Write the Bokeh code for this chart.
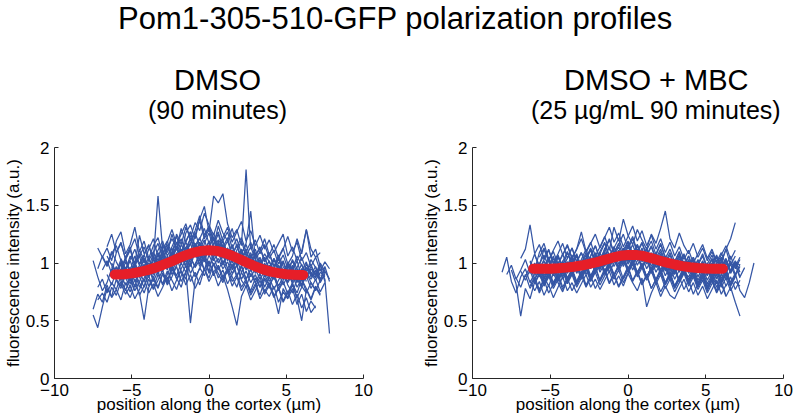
import numpy as np
from bokeh.plotting import figure
from bokeh.models import FixedTicker, Range1d, ColumnDataSource, GlobalInlineStyleSheet
from bokeh.core.properties import value
from bokeh.layouts import column, row
from bokeh.embed import file_html
from bokeh.resources import INLINE

_ = float("nan")

MAIN_TITLE = "Pom1-305-510-GFP polarization profiles"
PANEL_TITLES = ["DMSO", "DMSO + MBC"]
PANEL_SUBTITLES = ["(90 minutes)", "(25 \u00b5g/mL 90 minutes)"]
X_LABEL = "position along the cortex (\u00b5m)"
Y_LABEL = "fluorescence intensity (a.u.)"

XTICKS = [-10, -5, 0, 5, 10]
XTICK_LABELS = ["\u221210", "\u22125", "0", "5", "10"]
YTICKS = [0, 0.5, 1, 1.5, 2]
YTICK_LABELS = ["0", "0.5", "1", "1.5", "2"]

# position along the cortex (um) shared by all single-cell profiles
X_GRID = [-8.1, -7.8, -7.5, -7.2, -6.9, -6.6, -6.3, -6.0, -5.7, -5.4, -5.1, -4.8, -4.5, -4.2,
          -3.9, -3.6, -3.3, -3.0, -2.7, -2.4, -2.1, -1.8, -1.5, -1.2, -0.9, -0.6, -0.3, 0.0,
          0.3, 0.6, 0.9, 1.2, 1.5, 1.8, 2.1, 2.4, 2.7, 3.0, 3.3, 3.6, 3.9, 4.2, 4.5, 4.8,
          5.1, 5.4, 5.7, 6.0, 6.3, 6.6, 6.9, 7.2, 7.5, 7.8, 8.1]

DMSO_PROFILES = [
    [_, _, 0.55, 0.44, 0.62, 0.78, 0.71, 0.86, 0.80, 0.92, 0.84, 0.97, 0.88, 0.79, 0.93,
     0.99, 0.90, 1.04, 0.96, 1.08, 1.01, 1.12, 1.05, 0.97, 1.10, 1.18, 1.06, 1.13, 1.02, 1.09,
     0.98, 1.07, 0.94, 1.03, 0.92, 0.99, 0.88, 0.95, 0.86, 0.93, 0.84, 0.91, 0.80, 0.88, 0.83,
     0.90, 0.79, 0.86, 0.75, _, _, _, _, _, _],
    [_, _, 1.02, 0.88, 0.76, 0.83, 0.95, 0.87, 1.01, 0.93, 0.86, 0.98, 1.06, 0.92, 1.00,
     0.95, 1.08, 1.01, 1.14, 1.05, 1.12, 1.21, 1.09, 1.17, 1.26, 1.15, 1.23, 1.31, 1.20, 1.12,
     1.19, 1.08, 1.14, 1.03, 1.10, 0.97, 1.04, 0.93, 0.99, 0.88, 0.95, 0.86, 0.92, 0.81, 0.89,
     0.84, 0.93, 0.87, 0.96, 0.91, 0.85, 0.92, 0.88, _, _],
    [_, _, _, 1.13, 1.05, 0.97, 1.08, 1.15, 1.02, 0.94, 1.06, 0.99, 1.11, 1.03, 0.95,
     1.09, 1.17, 1.04, 1.12, 1.21, 1.13, 1.06, 1.19, 1.27, 1.15, 1.22, 1.10, 1.18, 1.08, 1.16,
     1.05, 1.13, 1.01, 1.09, 0.98, 1.06, 0.95, 1.02, 0.91, 0.99, 0.93, 1.04, 0.97, 0.89, 1.01,
     0.94, 1.06, 0.98, 0.91, 1.03, 0.96, 0.89, _, _, _],
    [_, _, _, 0.68, 0.74, 0.66, 0.79, 0.72, 0.84, 0.77, 0.70, 0.81, 0.74, 0.51, 0.79,
     0.86, 0.78, 0.91, 0.83, 0.95, 0.87, 0.79, 0.93, 0.48, 0.85, 0.96, 0.89, 1.01, 0.92, 0.98,
     0.88, 0.95, 0.84, 0.90, 0.79, 0.86, 0.74, 0.82, 0.69, 0.77, 0.71, 0.80, 0.66, 0.75, 0.69,
     0.78, 0.64, 0.73, 0.58, 0.67, 0.61, _, _, _, _],
    [_, _, _, _, 0.94, 1.02, 0.91, 1.09, 1.18, 1.03, 1.11, 0.99, 1.24, 1.08, 1.15,
     1.03, 1.58, 1.12, 1.19, 1.07, 1.25, 1.16, 1.31, 1.22, 1.35, 1.28, 1.43, 1.33, 1.24, 1.37,
     1.26, 1.19, 1.30, 1.14, 1.22, 1.10, 1.18, 1.06, 1.13, 1.01, 1.08, 0.97, 1.05, 0.92, 1.00,
     0.93, 1.02, 0.88, 0.96, 0.90, 0.97, 0.86, 0.94, _, _],
    [_, _, _, _, _, _, 0.88, 0.97, 0.85, 0.93, 1.02, 0.90, 0.98, 1.07, 0.95,
     1.04, 0.96, 1.12, 1.01, 1.09, 1.18, 1.06, 1.26, 1.33, 1.21, 1.38, 1.49, 1.27, 1.58, 1.52,
     1.60, 1.34, 1.22, 1.29, 1.15, 1.81, 1.12, 1.20, 1.08, 1.16, 1.04, 1.11, 0.99, 1.07, 0.95,
     1.02, 0.91, 0.99, 0.87, 0.95, 0.90, 0.98, 0.84, _, _],
    [_, _, _, _, _, _, _, 0.92, 0.99, 0.87, 0.95, 0.84, 0.91, 0.99, 0.88,
     0.96, 1.04, 0.93, 1.01, 0.90, 0.98, 1.07, 0.96, 1.03, 1.11, 0.99, 1.08, 0.97, 1.05, 0.94,
     1.02, 0.91, 0.99, 0.88, 0.97, 0.86, 0.94, 1.03, 0.91, 0.98, 0.87, 0.95, 1.04, 0.92, 0.99,
     0.89, 0.96, 1.05, 0.93, 0.99, 0.88, 0.95, 0.86, 0.39, _],
    [_, _, _, _, _, 1.14, 1.25, 1.09, 1.17, 1.04, 1.12, 1.21, 1.06, 1.14, 1.02,
     1.10, 0.98, 1.07, 1.16, 1.04, 1.13, 1.01, 1.09, 1.17, 1.05, 1.12, 1.20, 1.08, 1.16, 1.25,
     1.11, 1.19, 1.07, 1.15, 1.03, 1.10, 0.99, 1.06, 1.14, 1.02, 1.09, 0.97, 1.05, 1.13, 0.99,
     1.06, 1.21, 1.08, 1.29, 1.12, 1.05, 1.09, _, _, _],
    [_, _, _, _, _, _, _, _, 0.82, 0.73, 0.80, 0.69, 0.77, 0.86, 0.74,
     0.82, 0.71, 0.79, 0.88, 0.76, 0.85, 0.93, 0.81, 0.90, 0.78, 0.87, 0.95, 0.84, 0.92, 0.80,
     0.89, 0.77, 0.62, 0.46, 0.71, 0.80, 0.68, 0.76, 0.85, 0.73, 0.81, 0.70, 0.78, 0.66, 0.74,
     0.83, 0.69, 0.50, 0.77, 0.68, 0.79, 0.72, _, _, _],
    [_, _, _, _, _, _, 0.97, 0.86, 0.94, 1.03, 0.91, 0.99, 0.88, 0.96, 1.05,
     0.93, 1.02, 1.10, 0.98, 1.07, 1.15, 1.04, 1.13, 1.21, 1.09, 1.17, 1.06, 1.14, 1.23, 1.11,
     1.19, 1.07, 1.16, 1.04, 1.12, 1.01, 1.09, 0.97, 1.05, 0.94, 1.02, 0.90, 0.98, 0.87, 0.95,
     0.84, 0.92, 0.81, 0.89, 0.78, 0.86, 0.75, 0.83, _, _],
    [_, _, _, _, _, _, _, _, 1.04, 0.95, 1.03, 1.12, 0.99, 1.07, 1.16,
     1.02, 1.11, 1.19, 1.06, 1.14, 1.23, 1.10, 1.18, 1.27, 1.13, 1.21, 1.30, 1.17, 1.26, 1.14,
     1.22, 1.31, 1.18, 1.27, 1.36, 1.19, 1.28, 1.15, 1.24, 1.12, 1.20, 1.09, 1.17, 1.25, 1.06,
     1.14, 1.02, 1.10, 1.29, 1.05, 1.12, 0.97, _, _, _],
    [_, _, _, 0.79, 0.86, 0.74, 0.83, 0.77, 0.89, 0.81, 0.87, 0.76, 0.84, 0.93, 0.80,
     0.88, 0.79, 0.91, 0.84, 0.97, 0.89, 1.00, 0.92, 1.05, 0.96, 1.03, 0.94, 1.07, 0.98, 1.04,
     0.95, 1.01, 0.91, 0.98, 0.86, 0.93, 0.83, 0.90, 0.79, 0.87, 0.81, 0.88, 0.78, 0.85, 0.93,
     0.82, 0.89, 0.80, 0.74, 0.83, 0.76, 0.85, 0.97, 0.84, _],
    [_, _, _, _, _, 1.06, 0.98, 0.91, 1.00, 0.89, 0.96, 0.87, 0.95, 1.03, 0.90,
     0.99, 1.08, 0.94, 1.02, 0.93, 1.01, 1.09, 0.98, 1.06, 1.14, 1.02, 1.10, 1.19, 1.05, 1.13,
     1.00, 1.08, 0.96, 1.04, 1.12, 0.99, 1.07, 0.95, 1.03, 0.91, 0.98, 0.87, 0.94, 1.02, 0.90,
     0.97, 0.85, 0.93, 1.01, 0.88, 0.94, 0.83, 0.91, _, _],
    [_, _, _, _, _, _, _, 0.85, 0.78, 0.90, 0.82, 0.91, 0.79, 0.87, 0.96,
     0.84, 0.93, 0.81, 0.90, 0.99, 0.86, 0.95, 1.03, 0.91, 0.99, 1.07, 0.94, 1.02, 0.89, 0.97,
     0.85, 0.93, 0.80, 0.88, 0.76, 0.84, 0.72, 0.80, 0.88, 0.75, 0.83, 0.71, 0.79, 0.67, 0.76,
     0.64, 0.73, 0.61, 0.70, 0.57, 0.63, _, _, _, _],
    [_, _, _, 0.95, 1.06, 0.98, 1.10, 1.01, 0.93, 1.05, 1.14, 0.97, 1.08, 1.00, 1.12,
     1.21, 1.05, 1.16, 1.09, 1.25, 1.12, 1.30, 1.18, 1.09, 1.24, 1.37, 1.21, 1.29, 1.15, 1.32,
     1.19, 1.27, 1.13, 1.21, 1.08, 1.16, 1.04, 1.12, 0.99, 1.08, 1.01, 0.94, 1.07, 0.97, 0.90,
     1.03, 0.95, 0.86, 0.99, 0.92, 0.87, 0.98, 0.91, _, _],
    [_, _, _, _, _, 0.90, 0.81, 0.93, 0.85, 0.76, 0.88, 0.80, 0.92, 0.84, 0.95,
     0.87, 0.99, 0.90, 0.82, 0.96, 1.05, 0.93, 0.86, 1.01, 1.09, 0.97, 1.06, 0.92, 1.12, 1.00,
     1.08, 0.95, 1.03, 0.89, 0.98, 0.86, 0.95, 0.83, 0.91, 0.79, 0.88, 0.77, 0.85, 0.93, 0.81,
     0.74, 0.86, 0.79, 0.92, 0.83, 0.77, _, _, _, _],
    [_, _, _, _, _, _, _, _, 0.96, 1.04, 0.92, 1.01, 0.89, 0.97, 0.91,
     1.03, 0.95, 1.07, 1.00, 1.13, 1.02, 1.16, 1.08, 1.22, 1.11, 1.03, 1.17, 1.26, 1.12, 1.20,
     1.14, 1.02, 1.11, 0.97, 1.06, 0.94, 1.03, 0.91, 0.98, 1.05, 0.93, 0.86, 0.98, 0.90, 0.84,
     0.96, 0.88, 0.81, 0.92, 0.86, 0.93, 0.85, 0.90, _, _],
    [_, _, _, _, _, _, 1.00, 0.92, 1.03, 0.95, 0.87, 0.99, 0.93, 1.04, 0.96,
     0.90, 1.01, 0.94, 1.06, 0.98, 1.09, 1.01, 1.14, 1.05, 0.97, 1.10, 1.02, 1.15, 1.07, 1.18,
     1.04, 1.13, 1.00, 1.11, 1.19, 1.06, 1.14, 1.03, 1.10, 1.21, 1.07, 1.16, 1.04, 1.12, 1.23,
     1.10, 1.18, 1.02, 1.09, 0.97, 1.05, 0.93, 1.01, 0.95, _],
    [_, _, 0.60, 0.73, 0.66, 0.81, 0.70, 0.77, 0.68, 0.83, 0.75, 0.86, 0.72, 0.80, 0.89,
     0.77, 0.85, 0.94, 0.81, 0.88, 0.97, 0.84, 0.92, 1.00, 0.88, 0.95, 1.04, 0.91, 0.99, 0.87,
     0.94, 0.82, 0.90, 0.98, 0.85, 0.79, 0.91, 0.83, 0.72, 0.86, 0.78, 0.90, 0.76, 0.84, 0.73,
     0.81, 0.70, 0.79, _, _, _, _, _, _, _],
    [_, _, _, _, _, _, _, 0.96, 0.89, 1.01, 0.94, 1.06, 0.98, 0.91, 1.03,
     0.96, 1.09, 1.01, 0.94, 1.06, 1.14, 0.99, 1.11, 1.03, 1.17, 1.09, 1.01, 1.14, 1.22, 1.07,
     1.16, 1.03, 1.11, 0.98, 1.08, 1.17, 1.45, 1.04, 0.93, 1.00, 0.92, 1.03, 0.95, 0.87, 0.98,
     0.91, 0.83, 0.95, 0.88, 0.97, 0.90, 1.00, 0.93, 0.86, _],
    [_, _, _, _, 1.05, 1.13, 1.02, 1.19, 1.27, 1.08, 1.16, 1.31, 1.10, 1.19, 1.04,
     1.15, 1.22, 1.07, 1.18, 1.29, 1.16, 1.25, 1.34, 1.19, 1.28, 1.41, 1.24, 1.32, 1.19, 1.27,
     1.13, 1.22, 1.07, 1.16, 1.03, 1.12, 0.99, 1.09, 0.96, 1.05, 0.95, 1.04, 0.92, 1.01, 0.89,
     0.98, 0.87, 0.95, 0.84, _, _, _, _, _, _],
    [_, _, _, _, _, _, _, _, _, 0.87, 0.79, 0.91, 0.83, 0.74, 0.86,
     0.78, 0.90, 0.82, 0.93, 0.85, 0.77, 0.89, 0.98, 0.84, 0.92, 0.81, 0.95, 0.87, 1.00, 0.91,
     0.83, 0.96, 0.88, 0.79, 0.92, 0.84, 0.76, 0.87, 0.79, 0.90, 0.81, 0.73, 0.56, 0.78, 0.70,
     0.82, 0.74, 0.86, 0.78, 0.69, 0.80, 0.73, _, _, _],
]

MBC_PROFILES = [
    [0.92, 1.05, 0.84, 0.74, 0.88, 0.95, 0.83, 0.91, 1.00, 0.87, 0.96, 0.89, 0.98, 0.86, 0.94,
     1.02, 0.91, 0.99, 1.07, 0.95, 1.03, 0.92, 1.00, 1.08, 0.97, 1.05, 1.13, 1.01, 1.09, 0.98,
     1.06, 0.95, 1.03, 0.92, 1.00, 0.89, 0.97, 0.86, 0.94, 1.02, 0.91, 0.99, 0.88, 0.96, 0.85,
     0.93, 0.82, 0.90, 0.98, _, _, _, _, _, _],
    [_, _, 0.94, 0.82, 0.54, 0.78, 0.69, 0.84, 0.76, 0.88, 0.80, 0.91, 0.83, 0.75, 0.86,
     0.94, 0.82, 0.90, 0.99, 0.87, 0.95, 1.04, 0.92, 1.00, 0.89, 0.97, 1.06, 0.94, 1.02, 0.91,
     0.99, 0.88, 0.96, 0.85, 0.93, 0.82, 0.90, 0.79, 0.87, 0.95, 0.84, 0.92, 0.81, 0.89, 0.78,
     0.86, 0.94, 0.83, 0.91, 0.80, 0.88, _, _, _, _],
    [_, _, _, _, _, _, 0.97, 1.08, 0.95, 1.03, 1.12, 0.99, 1.07, 0.96, 1.04,
     1.13, 1.01, 1.09, 0.98, 1.06, 1.15, 1.03, 1.11, 1.20, 1.08, 1.16, 1.25, 1.12, 1.21, 1.09,
     1.17, 1.06, 1.14, 1.02, 1.10, 0.99, 1.07, 0.95, 1.04, 0.93, 1.01, 0.90, 0.98, 1.06, 0.94,
     1.03, 0.91, 1.00, 1.12, 1.21, 1.35, _, _, _, _],
    [_, _, _, _, _, _, _, 0.89, 0.97, 0.86, 0.94, 0.83, 0.91, 0.99, 0.87,
     0.95, 0.84, 0.92, 1.00, 0.89, 0.97, 1.05, 0.93, 1.01, 0.90, 0.98, 1.07, 0.95, 1.03, 0.92,
     1.00, 0.88, 0.96, 0.85, 0.93, 0.82, 0.90, 0.79, 0.87, 0.95, 0.84, 0.92, 0.80, 0.88, 0.77,
     0.85, 0.74, 0.82, 0.71, 0.79, 0.66, 0.54, _, _, _],
    [_, _, _, _, _, _, _, _, 0.93, 1.02, 0.90, 0.98, 1.06, 0.94, 1.01,
     0.92, 1.00, 0.89, 0.97, 1.05, 0.93, 1.01, 1.10, 0.98, 1.06, 1.14, 1.02, 1.09, 0.99, 1.07,
     0.96, 1.04, 0.93, 1.01, 0.90, 0.98, 0.87, 0.95, 0.84, 0.92, 0.88, 0.96, 0.85, 0.93, 0.82,
     0.90, 0.79, 0.87, 0.95, 0.83, 0.91, 0.76, 0.70, 0.83, 1.00],
    [_, _, _, _, _, _, 1.02, 0.94, 1.09, 1.17, 1.03, 1.11, 1.19, 1.07, 1.15,
     1.04, 1.12, 1.27, 1.10, 1.18, 1.06, 1.14, 1.23, 1.11, 1.31, 1.19, 1.38, 1.24, 1.16, 1.29,
     1.20, 1.12, 1.25, 1.17, 1.30, 1.45, 1.21, 1.13, 1.26, 1.15, 1.08, 1.17, 1.05, 1.13, 1.02,
     1.10, 0.99, 1.07, 1.15, 1.03, 1.11, _, _, _, _],
    [_, _, _, _, _, _, 0.85, 0.76, 0.84, 0.72, 0.81, 0.70, 0.79, 0.88, 0.76,
     0.83, 0.74, 0.82, 0.90, 0.79, 0.86, 0.77, 0.85, 0.93, 0.81, 0.89, 0.80, 0.91, 0.83, 0.76,
     0.87, 0.62, 0.74, 0.83, 0.71, 0.80, 0.72, 0.69, 0.78, 0.86, 0.75, 0.83, 0.72, 0.80, 0.69,
     0.77, 0.85, 0.73, 0.81, _, _, _, _, _, _],
    [_, _, _, _, _, _, _, 1.07, 0.98, 1.12, 1.01, 0.93, 1.05, 0.97, 1.09,
     1.00, 1.08, 0.96, 1.04, 1.13, 1.02, 1.10, 1.18, 1.06, 1.14, 1.03, 1.11, 1.19, 1.08, 1.16,
     1.05, 1.13, 1.01, 1.09, 0.98, 1.06, 0.95, 1.03, 0.92, 1.00, 0.97, 1.05, 0.94, 1.02, 0.91,
     0.99, 1.07, 0.96, 1.04, 0.93, 1.01, 0.98, _, _, _],
    [_, _, _, _, _, 0.88, 0.97, 0.86, 0.93, 0.82, 0.90, 0.99, 0.87, 0.95, 0.84,
     0.92, 0.81, 0.89, 0.97, 0.86, 0.94, 1.02, 0.91, 0.99, 1.07, 0.96, 1.04, 0.93, 1.01, 0.90,
     0.98, 0.87, 0.95, 1.03, 0.92, 0.99, 0.88, 0.96, 0.85, 0.93, 0.82, 0.90, 0.79, 0.87, 0.95,
     0.84, 0.76, 0.91, 0.80, 0.88, 0.77, 0.85, _, _, _],
    [_, _, _, _, 1.04, 1.12, 1.33, 1.08, 1.16, 1.03, 1.11, 1.00, 1.08, 1.17, 1.04,
     1.13, 1.01, 1.09, 0.98, 1.06, 1.15, 1.03, 1.12, 1.21, 1.09, 1.17, 1.05, 1.14, 1.23, 1.10,
     1.18, 1.07, 1.15, 1.04, 1.12, 1.01, 1.09, 0.97, 1.06, 0.94, 1.02, 0.91, 0.99, 1.08, 0.96,
     1.04, 0.93, 1.01, 1.12, 0.98, 1.06, _, _, _, _],
    [_, _, _, _, _, _, _, _, 0.90, 0.81, 0.89, 0.78, 0.86, 0.95, 0.83,
     0.91, 0.99, 0.88, 0.96, 0.85, 0.93, 1.01, 0.90, 0.98, 1.06, 0.95, 1.03, 0.92, 1.00, 1.08,
     0.97, 1.05, 0.94, 1.02, 0.91, 0.99, 0.88, 0.96, 0.84, 0.92, 0.86, 0.94, 0.83, 0.91, 0.80,
     0.88, 0.96, 0.85, 0.93, 0.81, 0.89, 0.97, _, _, _],
    [_, _, _, 0.87, 0.79, 0.90, 0.78, 0.86, 0.74, 0.83, 0.92, 0.80, 0.88, 0.77, 0.85,
     0.94, 0.82, 0.90, 0.79, 0.87, 0.96, 0.84, 0.92, 1.00, 0.89, 0.98, 0.86, 0.94, 1.02, 0.91,
     0.99, 0.88, 0.96, 0.84, 0.93, 0.81, 0.89, 0.78, 0.86, 0.94, 0.83, 0.91, 0.80, 0.88, 0.76,
     0.85, 0.93, 0.82, 0.90, 0.79, _, _, _, _, _],
    [_, _, _, _, _, _, 1.01, 0.92, 1.00, 0.89, 0.97, 1.06, 0.94, 1.02, 0.91,
     0.99, 1.07, 0.96, 1.04, 1.12, 1.00, 1.09, 0.97, 1.05, 1.14, 1.02, 1.10, 0.99, 1.07, 1.16,
     1.03, 1.12, 1.00, 1.08, 1.17, 1.05, 0.93, 1.01, 1.10, 0.98, 1.06, 0.95, 1.03, 0.92, 1.00,
     0.89, 0.97, 1.05, 0.94, 1.02, 0.90, 0.99, _, _, _],
    [_, _, _, _, _, _, _, 0.86, 0.95, 0.84, 0.92, 0.81, 0.89, 0.98, 0.86,
     0.94, 0.83, 0.91, 0.80, 0.88, 0.97, 0.85, 0.93, 0.82, 0.90, 0.79, 0.87, 0.96, 0.84, 0.92,
     0.81, 0.89, 0.78, 0.86, 0.95, 0.83, 0.91, 0.80, 0.88, 0.97, 0.85, 0.93, 0.82, 0.90, 0.99,
     0.87, 0.95, 0.84, 0.92, 0.81, 0.89, _, _, _, _],
    [_, _, _, _, _, _, 0.92, 1.00, 0.89, 0.97, 1.05, 0.93, 1.01, 0.88, 0.96,
     1.04, 0.92, 1.00, 1.09, 0.97, 1.05, 0.94, 1.13, 1.02, 1.10, 0.99, 1.07, 1.16, 1.04, 1.12,
     1.01, 1.09, 0.97, 1.05, 0.94, 1.02, 0.91, 0.99, 1.07, 0.95, 1.03, 0.92, 1.00, 0.89, 0.97,
     0.86, 0.94, 1.02, 0.91, 0.99, 0.88, _, _, _, _],
    [_, _, _, _, _, _, _, 0.83, 0.91, 0.80, 0.88, 0.97, 0.85, 0.93, 0.82,
     0.90, 0.79, 0.87, 0.95, 0.84, 0.92, 0.81, 0.89, 0.97, 0.86, 0.94, 0.83, 0.91, 0.99, 0.88,
     0.96, 0.85, 0.93, 0.82, 0.90, 0.78, 0.86, 0.75, 0.83, 0.91, 0.80, 0.88, 0.77, 0.85, 0.74,
     0.82, 0.90, 0.79, 0.87, 0.76, 0.84, 0.80, _, _, _],
    [_, _, _, _, _, _, _, _, 1.05, 1.13, 1.02, 1.10, 0.99, 1.07, 1.16,
     1.04, 1.12, 1.21, 1.09, 1.17, 1.25, 1.13, 1.22, 1.31, 1.18, 1.26, 1.14, 1.23, 1.32, 1.19,
     1.28, 1.15, 1.24, 1.12, 1.21, 1.09, 1.18, 1.06, 1.14, 1.03, 1.11, 1.00, 1.08, 1.16, 1.04,
     1.12, 1.01, 1.09, 0.98, 1.06, 0.95, 1.03, _, _, _],
    [_, _, _, _, 0.93, 0.85, 0.94, 0.82, 0.90, 0.99, 0.87, 0.95, 0.84, 0.92, 1.01,
     0.89, 0.97, 0.86, 0.94, 1.03, 0.91, 0.99, 1.08, 0.96, 1.04, 0.93, 1.01, 1.10, 0.98, 1.06,
     0.95, 1.03, 0.91, 0.99, 1.08, 0.96, 0.85, 0.93, 1.01, 0.90, 0.98, 0.87, 0.95, 0.84, 0.92,
     1.00, 0.89, 0.97, 0.86, 0.94, 1.02, 0.92, _, _, _],
    [_, _, _, _, _, _, _, _, _, 0.95, 1.03, 0.91, 0.99, 1.08, 0.96,
     1.05, 0.93, 1.02, 0.90, 0.98, 1.07, 0.95, 1.04, 0.92, 1.00, 1.09, 0.97, 1.06, 0.94, 1.02,
     1.11, 0.99, 1.08, 0.96, 1.04, 0.93, 1.01, 0.90, 0.98, 1.07, 0.95, 1.03, 0.92, 1.00, 0.89,
     0.97, 1.05, 0.94, 1.02, 0.91, 0.99, 0.87, _, _, _],
    [_, _, _, _, _, _, 0.80, 0.88, 0.77, 0.85, 0.74, 0.82, 0.91, 0.79, 0.87,
     0.76, 0.84, 0.93, 0.81, 0.89, 0.78, 0.86, 0.95, 0.83, 0.91, 0.80, 0.88, 0.97, 0.85, 0.93,
     0.82, 0.90, 0.78, 0.86, 0.75, 0.83, 0.92, 0.80, 0.88, 0.77, 0.85, 0.73, 0.82, 0.90, 0.79,
     0.87, 0.75, 0.84, 0.72, _, _, _, _, _, _],
    [_, 0.90, 0.98, 0.86, 0.94, 1.03, 0.91, 0.99, 0.88, 0.96, 1.05, 0.93, 1.01, 0.90, 0.98,
     1.07, 0.95, 1.03, 1.12, 1.00, 1.09, 0.97, 1.05, 1.14, 1.02, 1.11, 0.99, 1.07, 1.16, 1.04,
     1.13, 1.01, 1.09, 0.98, 1.06, 0.94, 1.03, 0.91, 0.99, 1.08, 0.96, 1.05, 0.93, 1.01, 0.90,
     0.98, 0.86, 0.95, 1.03, 0.92, 1.00, 0.88, 0.96, _, _],
    [_, _, _, _, _, _, _, _, 0.99, 1.07, 0.96, 1.04, 0.93, 1.01, 1.10,
     0.98, 1.06, 0.95, 1.03, 1.11, 1.00, 1.08, 1.17, 1.05, 1.13, 1.21, 1.09, 1.18, 1.06, 1.15,
     1.03, 1.11, 1.19, 1.07, 1.16, 1.04, 1.12, 1.01, 1.09, 0.97, 1.06, 0.94, 1.02, 0.91, 0.99,
     1.07, 0.95, 1.04, 0.92, 1.00, 0.97, 1.05, _, _, _],
]

# mean profiles (thick red curves)
MEAN_X = [-6.1, -5.5, -5.0, -4.5, -4.0, -3.5, -3.0, -2.5, -2.0, -1.5, -1.0, -0.5, 0.0,
          0.5, 1.0, 1.5, 2.0, 2.5, 3.0, 3.5, 4.0, 4.5, 5.0, 5.5, 6.1]
DMSO_MEAN = [0.900, 0.903, 0.910, 0.922, 0.938, 0.958, 0.983, 1.010, 1.040, 1.068, 1.090, 1.105,
             1.110, 1.105, 1.088, 1.063, 1.033, 1.000, 0.970, 0.945, 0.925, 0.912, 0.903, 0.898, 0.897]
MBC_MEAN = [0.950, 0.950, 0.951, 0.954, 0.960, 0.968, 0.978, 0.992, 1.008, 1.027, 1.046, 1.062,
            1.070, 1.070, 1.060, 1.042, 1.022, 1.003, 0.987, 0.973, 0.963, 0.956, 0.952, 0.950, 0.950]

BLUE = "#3556a5"
RED = "#e61e28"
FONT = "Liberation Sans"
AXIS_COLOR = "#262626"

# layout (pixels); the page margin is removed so everything sits in page coordinates
PAGE_W, PAGE_H = 796, 419
HEAD_H = 37
TITLE_H = 100
FRAME_W, FRAME_H = 311, 231
L1, L2 = 52, 72
W1 = 400
W2 = PAGE_W - W1
R1 = W1 - L1 - FRAME_W
R2 = W2 - L2 - FRAME_W
PANEL_H = PAGE_H - HEAD_H - TITLE_H
TOP_B = 10
BOT_B = PANEL_H - TOP_B - FRAME_H


def text_strip(width, height):
    p = figure(width=width, height=height, x_range=Range1d(0, width), y_range=Range1d(height, 0),
               title=None, output_backend="svg", toolbar_location=None,
               x_axis_type=None, y_axis_type=None,
               min_border=0, min_border_left=0, min_border_right=0,
               min_border_top=0, min_border_bottom=0)
    p.outline_line_color = None
    p.xgrid.visible = False
    p.ygrid.visible = False
    return p


def make_panel(profiles, mean, left, right):
    p = figure(width=left + FRAME_W + right, height=PANEL_H,
               x_range=Range1d(-10, 10), y_range=Range1d(0, 2),
               output_backend="svg", toolbar_location=None,
               min_border_left=left, min_border_right=right,
               min_border_top=TOP_B, min_border_bottom=BOT_B)
    xg = np.array(X_GRID, dtype=float)
    for prof in profiles:
        y = np.array((list(prof) + [_] * len(X_GRID))[:len(X_GRID)], dtype=float)
        src = ColumnDataSource(data=dict(x=xg, y=y))
        p.line("x", "y", source=src, line_color=BLUE, line_width=1.25)
    p.line(MEAN_X, mean, line_color=RED, line_width=10, line_cap="round", line_join="round")

    p.xgrid.visible = False
    p.ygrid.visible = False
    p.outline_line_color = None
    p.xaxis.ticker = FixedTicker(ticks=XTICKS)
    p.xaxis.major_label_overrides = dict(zip(XTICKS, XTICK_LABELS))
    p.yaxis.ticker = FixedTicker(ticks=YTICKS)
    p.yaxis.major_label_overrides = dict(zip(YTICKS, YTICK_LABELS))
    p.xaxis.axis_label = X_LABEL
    p.yaxis.axis_label = Y_LABEL
    for ax in (p.xaxis[0], p.yaxis[0]):
        ax.axis_line_color = AXIS_COLOR
        ax.axis_line_width = 1
        ax.major_tick_line_color = AXIS_COLOR
        ax.major_tick_in = 4
        ax.major_tick_out = 0
        ax.minor_tick_line_color = None
        ax.major_label_text_font = FONT
        ax.major_label_text_font_size = "17px"
        ax.major_label_text_color = "black"
        ax.axis_label_text_font = FONT
        ax.axis_label_text_font_size = "17px"
        ax.axis_label_text_font_style = "normal"
        ax.axis_label_text_color = "black"
    p.xaxis.major_label_standoff = 5
    p.xaxis.axis_label_standoff = -4
    p.yaxis.major_label_standoff = 5
    p.yaxis.axis_label_standoff = 0
    return p


def panel_titles(title, subtitle, width, cx):
    t = text_strip(width, TITLE_H)
    t.text(x=[cx], y=[42], text=[title], text_font=value(FONT),
           text_font_size=value("29px"), text_align="center", text_baseline="alphabetic",
           text_color="black")
    t.text(x=[cx], y=[72], text=[subtitle], text_font=value(FONT),
           text_font_size=value("25px"), text_align="center", text_baseline="alphabetic",
           text_color="black")
    return t


head = text_strip(PAGE_W, HEAD_H)
head.text(x=[395], y=[18], text=[MAIN_TITLE], text_font=value(FONT),
          text_font_size=value("31px"), text_align="center", text_baseline="alphabetic",
          text_color="black")

t1 = panel_titles(PANEL_TITLES[0], PANEL_SUBTITLES[0], W1, 211)
t2 = panel_titles(PANEL_TITLES[1], PANEL_SUBTITLES[1], W2, 634 - W1)
p1 = make_panel(DMSO_PROFILES, DMSO_MEAN, L1, R1)
p2 = make_panel(MBC_PROFILES, MBC_MEAN, L2, R2)

page_css = GlobalInlineStyleSheet(css="html, body { margin: 0; padding: 0; overflow: hidden; }")
layout = column(head, row(column(t1, p1), column(t2, p2)), stylesheets=[page_css])
open("out.html", "w").write(file_html(layout, INLINE))
